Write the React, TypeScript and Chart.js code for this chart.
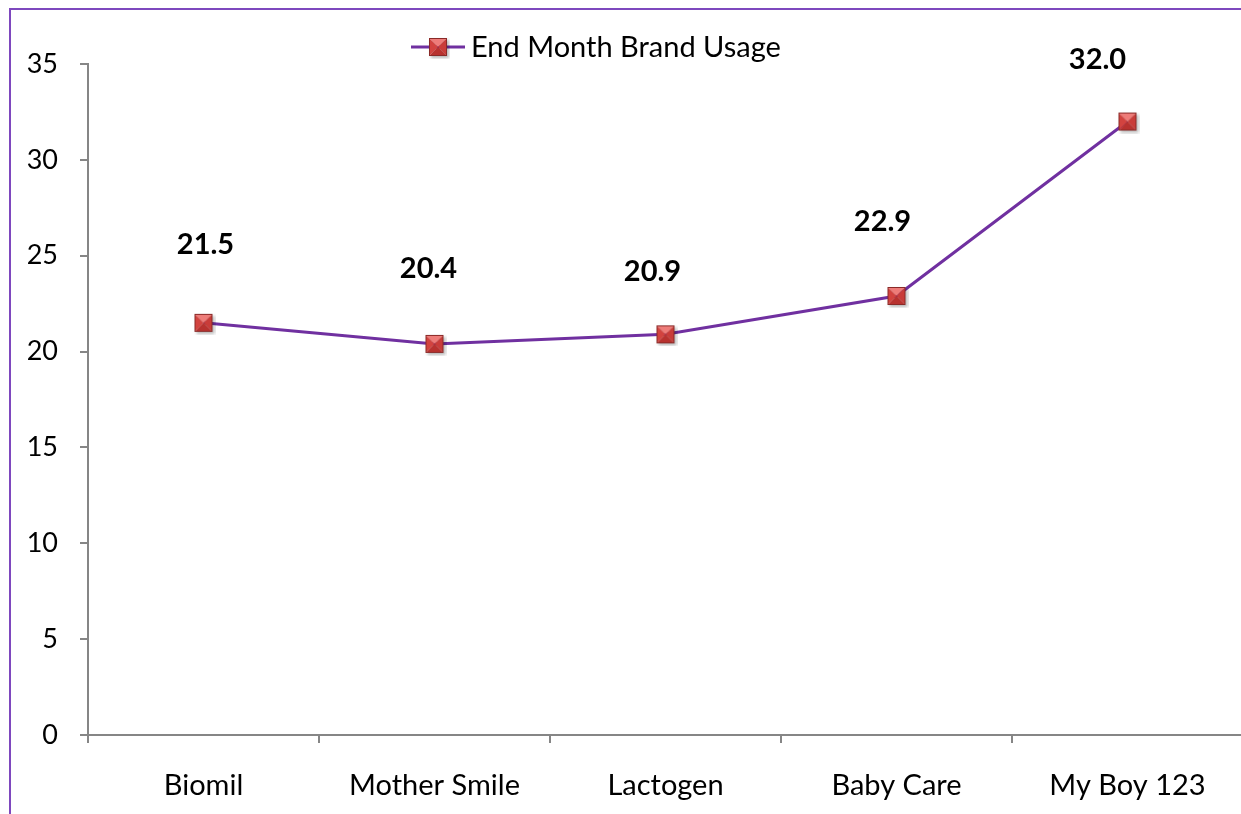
import React, { useEffect, useRef } from "react";
import { Chart, registerables } from "chart.js";

Chart.register(...registerables);

const categories = ["Biomil", "Mother Smile", "Lactogen", "Baby Care", "My Boy 123"];
const usage = [21.5, 20.4, 20.9, 22.9, 32.0];
const seriesName = "End Month Brand Usage";
const yMin = 0;
const yMax = 35;
const yStep = 5;
// label nudges (style only)
const labelDx = [2, -6, -13, -14, -30];
const labelDy = [-78, -75, -63, -74, -62];

const FONT = "Lato, 'Open Sans', sans-serif";
const PURPLE = "#7030A0";
const AXIS = "#868686";

function makeMarker(): HTMLCanvasElement {
  const s = 18;
  const o = 3;
  const W = 2 * o + s;
  const c = document.createElement("canvas");
  c.width = W;
  c.height = W;
  const g = c.getContext("2d")!;
  g.save();
  g.filter = "blur(1.5px)";
  g.fillStyle = "rgba(0,0,0,0.28)";
  g.fillRect(o + 2, o + 2, s, s);
  g.restore();
  const A = [o, o], B = [o + s, o], C = [o + s, o + s], D = [o, o + s], E = [o + s / 2, o + s / 2];
  const face = (p: number[][], col: string) => {
    g.beginPath();
    g.moveTo(p[0][0], p[0][1]);
    g.lineTo(p[1][0], p[1][1]);
    g.lineTo(p[2][0], p[2][1]);
    g.closePath();
    g.fillStyle = col;
    g.fill();
  };
  face([A, B, E], "#EE7C79");
  face([B, C, E], "#C93C39");
  face([C, D, E], "#B8322F");
  face([D, A, E], "#D2433F");
  g.strokeStyle = "#8A2A28";
  g.lineWidth = 1;
  g.strokeRect(o + 0.5, o + 0.5, s - 1, s - 1);
  return c;
}

export default function App() {
  const ref = useRef<HTMLCanvasElement | null>(null);

  useEffect(() => {
    if (!ref.current) return;
    const marker = makeMarker();

    const labelsPlugin = {
      id: "valueLabels",
      afterDatasetsDraw(chart: any) {
        const ctx = chart.ctx;
        const meta = chart.getDatasetMeta(0);
        ctx.save();
        ctx.font = `bold 29px ${FONT}`;
        ctx.fillStyle = "#000";
        ctx.textAlign = "center";
        ctx.textBaseline = "middle";
        meta.data.forEach((pt: any, i: number) => {
          ctx.fillText(usage[i].toFixed(1), pt.x + labelDx[i], pt.y + labelDy[i]);
        });
        ctx.restore();
      },
    };

    const legendPlugin = {
      id: "customLegend",
      afterDraw(chart: any) {
        const ctx = chart.ctx;
        const y = 47;
        ctx.save();
        ctx.strokeStyle = PURPLE;
        ctx.lineWidth = 3;
        ctx.beginPath();
        ctx.moveTo(411, y);
        ctx.lineTo(465, y);
        ctx.stroke();
        ctx.drawImage(marker, 438 - marker.width / 2, y - marker.height / 2);
        ctx.font = `29px ${FONT}`;
        ctx.fillStyle = "#000";
        ctx.textAlign = "left";
        ctx.textBaseline = "middle";
        ctx.fillText(seriesName, 471, y + 1);
        ctx.restore();
      },
    };

    const chart = new Chart(ref.current, {
      type: "line",
      data: {
        labels: categories,
        datasets: [
          {
            label: seriesName,
            data: usage,
            borderColor: PURPLE,
            borderWidth: 3,
            pointStyle: marker as any,
            pointRadius: 9,
            pointHoverRadius: 9,
            tension: 0,
          },
        ],
      },
      options: {
        responsive: false,
        animation: false,
        events: [],
        layout: { padding: { top: 64, right: 17, left: 0, bottom: 0 } },
        plugins: {
          legend: { display: false },
          tooltip: { enabled: false },
        },
        scales: {
          x: {
            type: "category",
            offset: true,
            grid: {
              offset: true,
              drawOnChartArea: false,
              drawTicks: true,
              tickLength: 8,
              color: AXIS,
              lineWidth: 2,
            },
            border: { display: true, color: AXIS, width: 2 },
            ticks: {
              color: "#000",
              font: { family: FONT, size: 29 },
              padding: 25,
              maxRotation: 0,
            },
            afterFit(scale: any) {
              scale.height = 814 - 735;
            },
          },
          y: {
            min: yMin,
            max: yMax,
            grid: {
              drawOnChartArea: false,
              drawTicks: true,
              tickLength: 8,
              color: AXIS,
              lineWidth: 2,
            },
            border: { display: true, color: AXIS, width: 2 },
            ticks: {
              stepSize: yStep,
              color: "#000",
              font: { family: FONT, size: 27 },
              padding: 22,
            },
            afterFit(scale: any) {
              scale.width = 88;
            },
          },
        },
      },
      plugins: [labelsPlugin, legendPlugin],
    });
    return () => chart.destroy();
  }, []);

  return (
    <div
      style={{
        position: "fixed",
        left: 0,
        top: 0,
        width: 1241,
        height: 814,
        overflow: "hidden",
        background: "#fff",
      }}
    >
      <div
        style={{
          position: "absolute",
          left: 9,
          top: 8,
          width: 1300,
          height: 900,
          borderLeft: "2px solid #7E48BE",
          borderTop: "2px solid #7E48BE",
        }}
      />
      <canvas
        ref={ref}
        width={1260}
        height={814}
        style={{ position: "absolute", left: 0, top: 0, width: 1260, height: 814 }}
      />
    </div>
  );
}
